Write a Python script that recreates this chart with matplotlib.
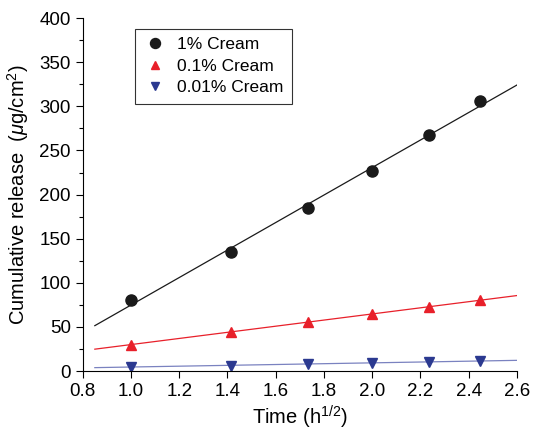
import matplotlib
matplotlib.use("Agg")
import matplotlib.pyplot as plt
import numpy as np

plt.rcParams['font.family'] = ['Liberation Sans', 'DejaVu Sans']
plt.rcParams['mathtext.fontset'] = 'custom'
plt.rcParams['mathtext.rm'] = 'Liberation Sans'
plt.rcParams['mathtext.it'] = 'Liberation Sans:italic'

time_sqrt = [1.0, 1.414, 1.732, 2.0, 2.236, 2.449]
cream_1 = [81, 135, 185, 227, 268, 306]
cream_01 = [30, 44, 56, 65, 73, 80]
cream_001 = [5, 6, 8, 9.5, 10.5, 11.5]
labels = ['1% Cream', '0.1% Cream', '0.01% Cream']

fig = plt.figure(figsize=(5.34, 4.32), dpi=100)
ax = fig.add_axes([0.155, 0.141, 0.813, 0.817])

xfit = np.linspace(0.85, 2.6, 50)
series = [
    (cream_1, 'o', '#1a1a1a', '#1a1a1a', 8),
    (cream_01, '^', '#e8202a', '#e8202a', 7),
    (cream_001, 'v', '#2b3990', '#7a82c0', 7),
]
for (ys, mk, mc, lc, ms), lab in zip(series, labels):
    p = np.polyfit(time_sqrt, ys, 1)
    ax.plot(xfit, np.polyval(p, xfit), color=lc, lw=0.9, zorder=1)
    ax.plot(time_sqrt, ys, linestyle='none', marker=mk, color=mc, ms=ms, label=lab, zorder=2)

ax.set_xlim(0.8, 2.6)
ax.set_ylim(0, 400)
ax.set_xticks(np.arange(0.8, 2.61, 0.2))
ax.set_xticklabels([f'{v:.1f}' for v in np.arange(0.8, 2.61, 0.2)])
ax.set_yticks(np.arange(0, 401, 50))
ax.set_yticks(np.arange(0, 401, 25), minor=True)
ax.spines['top'].set_visible(False)
ax.spines['right'].set_visible(False)
ax.tick_params(axis='both', which='major', direction='out', length=5, labelsize=13.5, width=0.8)
ax.tick_params(axis='y', which='minor', direction='out', length=3, width=0.8)
ax.set_xlabel('Time (h$^{1/2}$)', fontsize=14.5, labelpad=3)
ax.set_ylabel(r'Cumulative release  ($\mathit{\mu}$g/cm$^2$)', fontsize=14.5, labelpad=6)

leg = ax.legend(loc='upper left', bbox_to_anchor=(0.1, 0.995), fontsize=12.5, frameon=True,
                fancybox=False, edgecolor='black', handletextpad=0.6, borderpad=0.5,
                labelspacing=0.35, handlelength=1.3, markerscale=0.9)
leg.get_frame().set_linewidth(0.8)

fig.savefig('out.png', dpi=100)
